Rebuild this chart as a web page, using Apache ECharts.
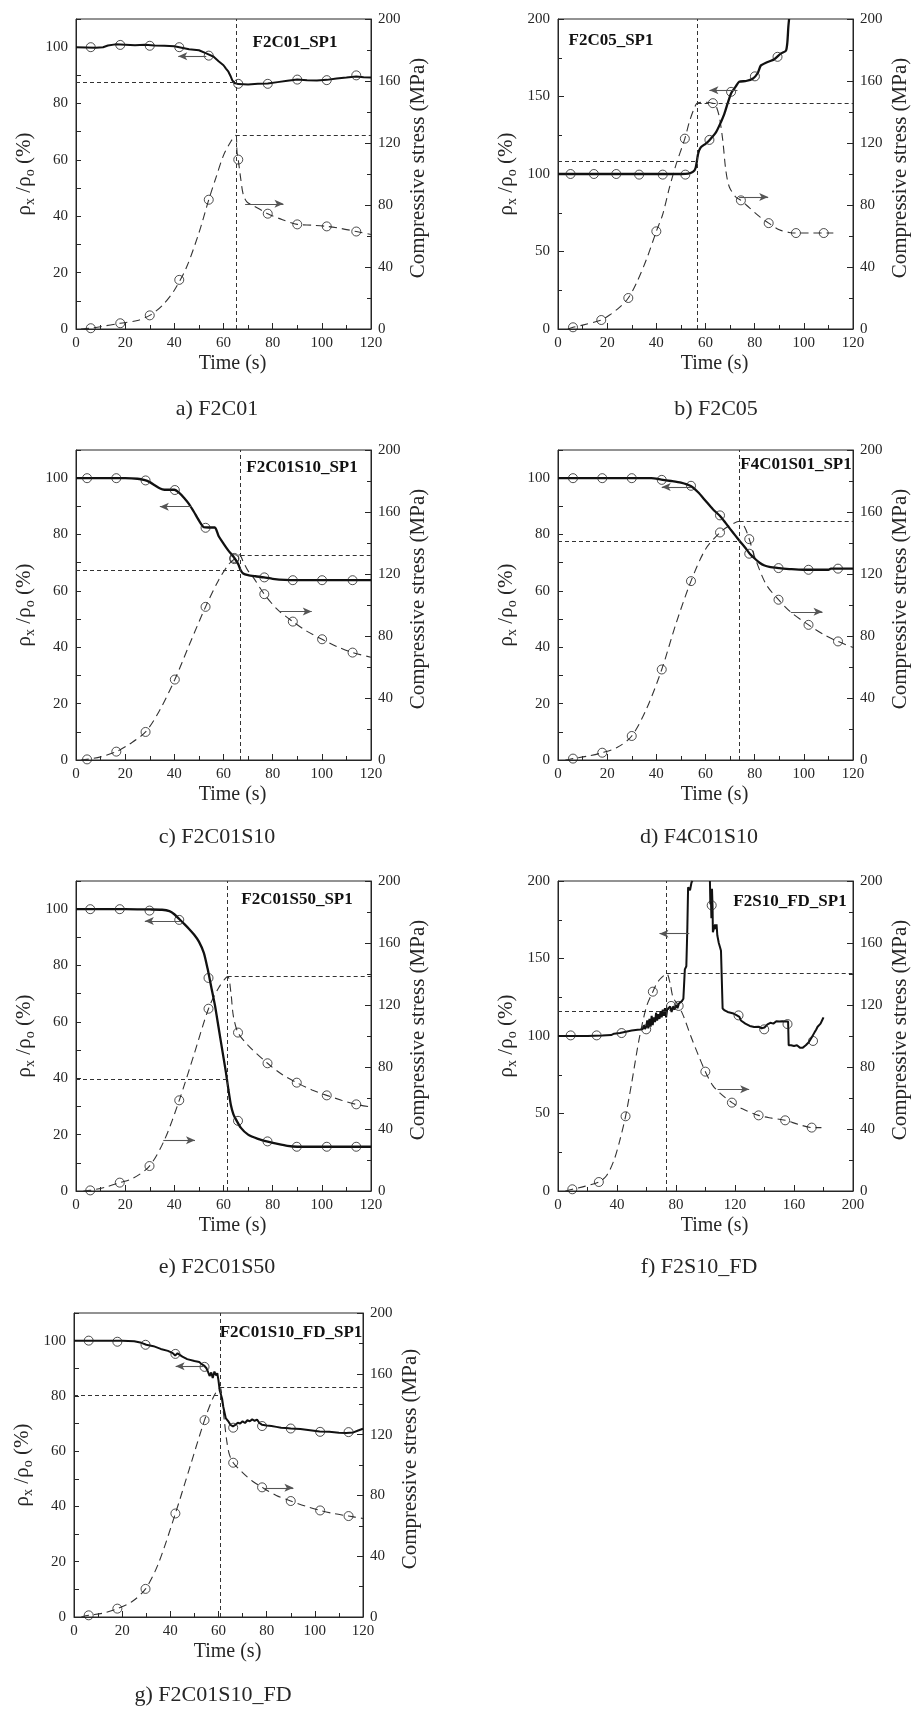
<!DOCTYPE html>
<html>
<head>
<meta charset="utf-8">
<title>Resistivity ratio and compressive stress vs time</title>
<script src="https://cdn.jsdelivr.net/npm/echarts@6.0.0/dist/echarts.min.js"></script>
<style>
  html, body { margin: 0; padding: 0; background: #ffffff; }
  #chart { width: 912px; height: 1709px; }
</style>
</head>
<body>
<div id="chart"></div>
<script>
// ---------- data: [time (s), value] ----------
// a) F2C01
const densityA = [[0,100],[4,99.9],[8,99.8],[11,100],[13,100.6],[16,101],[20,100.9],[24,100.7],[28,100.9],[32,100.6],[36,100.5],[40,100.3],[43,99.8],[46,99.3],[50,98.9],[53,97.8],[56,96.6],[58,95],[60,93.6],[61,92.4],[62,91.3],[63,89.5],[63.6,88.2],[64.5,87.3],[66,86.9],[70,86.8],[74,87],[78,87.1],[82,87.6],[86,88.1],[90,88.5],[94,88.3],[98,88.2],[102,88.4],[106,88.9],[110,89.2],[114,89.6],[117,89.3],[120,89.2]];
const stressA = [[2,0],[6,0.5],[10,1.5],[18,3.7],[25,5.5],[30,8.8],[35,15],[40,25],[45,40],[50,62],[54,83.4],[57,98],[60,112],[63,121],[65,125],[65.5,114],[66,109.3],[67,97],[68,87],[69.5,82],[72,79.7],[78,74.4],[84,70.5],[90,67.5],[96,67],[102,66.2],[108,64.8],[114,62.9],[120,61]];
const densityMarksA = [[6,100],[18,100.8],[30,100.5],[42,100],[54,97],[66,87],[78,87],[90,88.5],[102,88.3],[114,90]];
const stressMarksA = [[6,0.5],[18,3.7],[30,8.8],[42,31.7],[54,83.4],[66,109.3],[78,74.4],[90,67.5],[102,66.2],[114,62.9]];

// b) F2C05
const densityB = [[0,100],[10,100],[20,100],[30,100],[40,100],[50,100],[53,100.3],[55,101.5],[56,104],[57,113],[58,117],[60,119.5],[61.6,121.8],[64.3,127],[66.3,133.6],[67.7,139],[69,145.5],[70.4,152],[72.4,156.7],[73.7,159.5],[76.5,160],[79.2,161.4],[81.2,165],[82.5,170],[84.6,171.8],[88,174],[90.7,177.8],[92.7,179.5],[93.3,185],[93.7,195],[94,200]];
const stressB = [[4,0],[6.1,1.1],[10,2.5],[17.6,5.8],[21,9],[25,14],[28.6,20],[32,30],[36,45],[40,63],[42.6,74],[45.3,91],[48,106],[51.6,122.8],[53.5,134],[56,144.5],[57,146],[60,146.3],[63,145.7],[64,145],[65.6,137],[67,122],[68.3,102],[69.7,91.6],[72.4,85],[74.4,83],[78,78],[82,72.5],[85.7,68.3],[90,64],[94,62.3],[96.8,61.9],[102,61.9],[108.1,61.9],[112,61.9]];
const densityMarksB = [[5.1,100],[14.6,100],[23.7,100],[33,99.6],[42.6,99.6],[51.8,99.6],[61.6,122],[70.4,153],[80.1,163],[89.3,175.6]];
const stressMarksB = [[6.1,1.1],[17.6,5.8],[28.6,20],[40,63],[51.6,122.8],[63,145.7],[74.4,83],[85.7,68.3],[96.8,61.9],[108.1,61.9]];

// c) F2C01S10
const densityC = [[0,100],[10,100],[20,100],[25,99.8],[28,99.3],[30,98.6],[32,97.5],[34,96.4],[36,95.9],[38,95.9],[40,95.9],[42,94.8],[44,93],[46,90.8],[48,88],[50,85],[52,82.6],[54,82.5],[56.5,82.5],[58,79.5],[60,76.8],[62,74.3],[64,72.2],[66,69.5],[67,67.3],[68,66.2],[70,65.6],[73,65.2],[76.5,64.8],[80,64.3],[85,63.9],[90,63.8],[100,63.8],[110,63.8],[120,63.8]];
const stressC = [[2,0],[4.5,0.4],[10,2],[16.4,5.4],[22,10.5],[28.3,18.1],[34,32],[40.2,51.9],[46,74],[52.7,98.8],[58,116],[62,126],[64.4,129.6],[66.5,132.4],[68,128],[70,122],[72.1,117.8],[76.6,107],[82,97],[88.2,89.3],[94,83],[100.1,77.9],[106,73.3],[112.5,69.3],[120,66.3]];
const densityMarksC = [[4.5,100],[16.4,100],[28.3,99.2],[40.2,95.8],[52.7,82.4],[64.4,71.7],[76.6,64.8],[88.2,63.8],[100.1,63.8],[112.5,63.8]];
const stressMarksC = [[4.5,0.4],[16.4,5.4],[28.3,18.1],[40.2,51.9],[52.7,98.8],[64.4,129.6],[76.6,107],[88.2,89.3],[100.1,77.9],[112.5,69.3]];

// d) F4C01S10
const densityD = [[0,100],[10,100],[20,100],[30,100],[38,100],[42,99.5],[46,99],[50,98.4],[54,97.2],[57,95],[60,92],[63,89],[66,86.5],[68,84.3],[70,82],[72,79.8],[74,77.6],[76,75.5],[78,73.2],[80,71.5],[82,70],[84,69],[86,68.5],[90,68.1],[95,67.7],[100,67.5],[105,67.5],[110,67.5],[111,67.9],[115,67.9],[120,67.9]];
const stressD = [[3,0],[6.1,0.9],[12,2.5],[18,4.7],[24,8],[30,15.5],[36,33],[42.2,58.4],[48,88],[54.1,115.4],[60,136],[65.9,146.8],[70,151.5],[73.9,154],[76,150],[77.8,142.5],[80,131],[84.6,113.5],[89.7,103.4],[95,95],[101.9,87.2],[108,81],[113.9,76.5],[120,72.6]];
const densityMarksD = [[6.1,100],[18,100],[30,100],[42.2,99.4],[54.1,97.3],[65.9,86.8],[77.8,73.2],[89.7,68.1],[101.9,67.5],[113.9,67.9]];
const stressMarksD = [[6.1,0.9],[18,4.7],[30,15.5],[42.2,58.4],[54.1,115.4],[65.9,146.8],[77.8,142.5],[89.7,103.4],[101.9,87.2],[113.9,76.5]];

// e) F2C01S50
const densityE = [[0,100],[10,100],[20,100],[30,99.9],[35,99.8],[38,99.3],[40,98.2],[42,96.5],[44,94.8],[46,93],[48,91],[50,88.5],[52,84.5],[53.5,79],[55,72.5],[56.5,66],[58,58],[59.5,50],[61,42],[62,36],[63,30.5],[64,27.3],[65,25.5],[67,22.5],[70,20],[74,18.5],[78,17.5],[82,16.7],[86,16],[90,15.7],[100,15.7],[110,15.7],[120,15.7]];
const stressE = [[3,0],[5.8,0.4],[12,2.5],[17.8,5.4],[23,8],[29.9,16.1],[36,33],[42,58.5],[48,88],[53.9,117.6],[58,131],[61.7,138.3],[63,128],[64,113],[65.9,102.2],[70,94],[77.9,82.4],[84,75],[89.8,69.9],[96,65.2],[102,61.7],[108,58.6],[114,55.9],[120,54.2]];
const densityMarksE = [[5.8,100],[17.8,100],[29.9,99.5],[42,96.2],[53.9,75.6],[65.9,24.9],[77.9,17.6],[89.8,15.7],[102,15.7],[114,15.7]];
const stressMarksE = [[5.8,0.4],[17.8,5.4],[29.9,16.1],[42,58.5],[53.9,117.6],[65.9,102.2],[77.9,82.4],[89.8,69.9],[102,61.7],[114,55.9]];

// f) F2S10_FD  ('-' marks the stretch where the ratio runs above the axis range)
const densityF = [[0,100],[10,100],[20,100],[30,100.3],[36,100.6],[38,101.5],[42,102],[46,102.8],[50,103.5],[54,104],[56,104.2],[57.5,104.5],[58.2,107],[59,104.5],[59.8,106],[60.5,110],[61.2,105],[62,111],[62.8,106],[63.5,113],[64.2,107],[65,112],[65.8,109],[66.5,115],[67.2,110],[68,114],[68.8,111],[69.5,116],[70.3,112],[71,117],[71.8,113],[72.5,118],[73.3,112],[74,117],[75,116],[76,119],[77,115.5],[78,119],[79,117],[80,120],[81,118],[82,121],[83,120],[84,122.5],[85,124],[85.7,124],[86,143],[87,145],[87.7,170],[88.2,196],[89.5,194],[90.5,199],[91.2,200],[97,'-'],[103,200],[103.3,185],[103.6,192],[104,176],[104.4,195],[104.8,183],[105,167],[106,167],[106.5,172],[107,169],[107.5,172],[108,165],[109,160],[109.8,157.4],[110.5,155],[111.3,155],[111.6,117.7],[113,116.5],[115,115.5],[117,115],[119,114.5],[121,113.5],[123,112.4],[124,110],[127,108],[130,106.5],[133,105.8],[136,106],[138,105],[140,105.5],[142,107.5],[144,108.5],[146,108],[148,109.5],[150,109.3],[152,109.5],[156,109.3],[156.4,94],[158,94],[160,93.5],[162,94],[164,92.5],[166,92.5],[168,94],[170,96],[172,99],[173,100],[174,102.5],[175,104],[176,106],[177,105.5],[178,108],[179,110],[180,112]];
const stressF = [[5,0],[9.7,1.1],[18,3],[27.7,5.8],[33,10],[38,20],[42,33],[45.8,48.2],[50,70],[55,98],[60,119],[64.3,128.6],[67,134],[70,137.5],[73.7,140.2],[76,134],[78,125],[81.8,119.4],[85,113],[90,100],[95,88],[99.9,77],[105,68],[110,63],[117.9,57],[125,53],[136,48.8],[145,47],[154,45.6],[163,43],[172,40.9],[178.6,40.9]];
const densityMarksF = [[8.6,100.4],[26.2,100.4],[43.1,101.9],[59.8,104.3],[76.7,119.4],[104.2,184.3],[122.4,113.3],[139.8,104.3],[155.6,107.7],[172.9,96.8]];
const stressMarksF = [[9.7,1.1],[27.7,5.8],[45.8,48.2],[64.3,128.6],[81.8,119.4],[99.9,77],[117.9,57],[136,48.8],[154,45.6],[172,40.9]];

// g) F2C01S10_FD
const densityG = [[0,100],[10,100],[20,100],[25,99.8],[28,99.2],[30,98.5],[33,98],[36,97],[39,96.3],[41,95.5],[42,94.6],[43,95.4],[45,94.2],[47,93.3],[50,92.6],[52,92.3],[53,91.5],[54,91],[55,90],[55.7,88.6],[56.3,87.2],[57,88.5],[57.6,86.5],[58.3,88.8],[59,87.4],[59.5,88.2],[60,85.5],[60.5,82],[61,80.5],[61.5,79],[62,76],[62.5,74],[63,72],[64,70.9],[65,69.5],[66,69],[67,69.5],[68,70.3],[69,70],[70,70.8],[71,70.2],[72,71.2],[73,70.8],[74,71.5],[75,71],[76,71.4],[77,70.2],[78,69.6],[80,69.3],[82,69.1],[84,68.8],[86,68.5],[88,68.4],[90,68.2],[94,68],[98,67.6],[102,67.1],[106,67],[110,66.7],[113,66.6],[116,66.8],[118,67.5],[120,68.1]];
const stressG = [[3,0],[6.1,1.1],[12,2.5],[18,5.5],[24,10],[29.7,18.5],[35,35],[42.1,68.1],[48,98],[54.2,129.5],[58,145],[60.7,151],[61.5,142],[62.5,128],[63.5,115],[64.5,107],[66.1,101.5],[70,95],[74,89.5],[78.1,85.3],[84,80],[90,76.3],[96,73],[102.2,70.1],[108,68],[114,66.4],[120,64.8]];
const densityMarksG = [[6.1,100],[18,99.6],[29.7,98.5],[42.1,95.2],[54.2,90.5],[66.1,68.5],[78.1,69.1],[90,68.2],[102.2,67],[114,66.9]];
const stressMarksG = [[6.1,1.1],[18,5.5],[29.7,18.5],[42.1,68.1],[54.2,129.5],[66.1,101.5],[78.1,85.3],[90,76.3],[102.2,70.1],[114,66.4]];

// peak stress: time, ratio at that time, stress value
const peakTime    = [65, 56.8, 67, 73.9, 61.7, 73.7, 60.7];
const peakDensity = [87.5, 108.4, 67.5, 77.6, 39.8, 115.9, 80.1];
const peakStress  = [125, 145.5, 132.4, 153.9, 138.3, 140.2, 151];

const panelTags = ['F2C01_SP1','F2C05_SP1','F2C01S10_SP1','F4C01S01_SP1','F2C01S50_SP1','F2S10_FD_SP1','F2C01S10_FD_SP1'];
const captions  = ['a) F2C01','b) F2C05','c) F2C01S10','d) F4C01S10','e) F2C01S50','f) F2S10_FD','g) F2C01S10_FD'];
const timeMax   = [120, 120, 120, 120, 120, 200, 120];
const ratioMax  = [110, 200, 110, 110, 110, 200, 110];

const densitySets = [densityA, densityB, densityC, densityD, densityE, densityF, densityG];
const stressSets  = [stressA, stressB, stressC, stressD, stressE, stressF, stressG];
const densityMarkSets = [densityMarksA, densityMarksB, densityMarksC, densityMarksD, densityMarksE, densityMarksF, densityMarksG];
const stressMarkSets  = [stressMarksA, stressMarksB, stressMarksC, stressMarksD, stressMarksE, stressMarksF, stressMarksG];

// ---------- layout & annotation placement ----------
const gridBoxes = [
  {left: 76,  top: 19,   width: 295, height: 310},
  {left: 558, top: 19,   width: 295, height: 310},
  {left: 76,  top: 450,  width: 295, height: 310},
  {left: 558, top: 450,  width: 295, height: 310},
  {left: 76,  top: 881,  width: 295, height: 310},
  {left: 558, top: 881,  width: 295, height: 310},
  {left: 74,  top: 1313, width: 289, height: 304}
];
// arrows in data coordinates: [from, to]
const ratioArrows = [
  [[53,96.8],[41.6,96.8]], [[73,154],[61.6,154]], [[47,89.9],[34.1,89.9]], [[54.1,96.9],[42.2,96.9]],
  [[42.3,95.8],[28,95.8]], [[89,166],[68.8,166]], [[53.9,90.7],[42.2,90.7]]
];
const stressArrows = [
  [[68.8,80.8],[84.4,80.8]], [[73.7,85.1],[85.5,85.1]], [[82.7,95.8],[95.9,95.8]], [[94.7,95.6],[107.6,95.6]],
  [[35.5,32.7],[48.4,32.7]], [[108.2,65.6],[129.6,65.6]], [[78.6,85],[91.1,85]]
];
const tagCenters = [[295,43],[611,41],[302,468],[796,465],[297,900],[790,902],[291,1333]];
const captionCenters = [[217,409],[716,409],[217,837],[699,837],[217,1267],[699,1267],[213,1695]];

const FONT = '"Liberation Serif", "Times New Roman", serif';
const INK = '#262626';
const TICK_FONT = 15;

function timeAxis(i) {
  const max = timeMax[i];
  return {
    type: 'value', gridIndex: i, min: 0, max: max, interval: max === 200 ? 40 : 20,
    axisLine: {show: true, onZero: false, lineStyle: {color: INK, width: 1}},
    axisTick: {show: true, inside: true, length: 6, lineStyle: {color: INK}},
    minorTick: {show: true, splitNumber: 2, length: 4, lineStyle: {color: INK}},
    splitLine: {show: false}, minorSplitLine: {show: false},
    axisLabel: {fontFamily: FONT, fontSize: TICK_FONT, color: INK, margin: 7},
    name: 'Time (s)', nameLocation: 'middle', nameGap: 25,
    nameTextStyle: {fontFamily: FONT, fontSize: 20, color: INK, padding: [0, 0, 0, 18]}
  };
}

function ratioAxis(i) {
  const max = ratioMax[i];
  const base = {
    type: 'value', gridIndex: i, position: 'left', min: 0, max: max,
    axisLine: {show: true, onZero: false, lineStyle: {color: INK, width: 1}},
    splitLine: {show: false}, minorSplitLine: {show: false},
    name: '{r|ρ}{s|x}{r| /ρ}{s|o}{r| (%)}', nameLocation: 'middle', nameGap: 39,
    nameTextStyle: {
      color: INK,
      rich: {
        r: {fontFamily: FONT, fontSize: 21, color: INK, lineHeight: 25},
        s: {fontFamily: FONT, fontSize: 14, color: INK, lineHeight: 9, verticalAlign: 'bottom'}
      }
    }
  };
  if (max === 110) {
    base.interval = 10;
    base.axisTick = {show: true, inside: true, length: 5, lineStyle: {color: INK}};
    base.minorTick = {show: false};
    base.axisLabel = {fontFamily: FONT, fontSize: TICK_FONT, color: INK, margin: 8,
      formatter: v => (v % 20 === 0 && v <= 100) ? String(v) : ''};
  } else {
    base.interval = 50;
    base.axisTick = {show: true, inside: true, length: 6, lineStyle: {color: INK}};
    base.minorTick = {show: true, splitNumber: 2, length: 4, lineStyle: {color: INK}};
    base.axisLabel = {fontFamily: FONT, fontSize: TICK_FONT, color: INK, margin: 8};
  }
  return base;
}

function stressAxis(i) {
  return {
    type: 'value', gridIndex: i, position: 'right', min: 0, max: 200, interval: 40,
    axisLine: {show: true, onZero: false, lineStyle: {color: INK, width: 1}},
    axisTick: {show: true, inside: true, length: 6, lineStyle: {color: INK}},
    minorTick: {show: true, splitNumber: 2, length: 4, lineStyle: {color: INK}},
    splitLine: {show: false}, minorSplitLine: {show: false},
    axisLabel: {fontFamily: FONT, fontSize: TICK_FONT, color: INK, margin: 7},
    name: 'Compressive stress (MPa)', nameLocation: 'middle', nameGap: 37,
    nameTextStyle: {fontFamily: FONT, fontSize: 21, color: INK, padding: [0, 0, 0, 12]}
  };
}

const refLine = {type: [4, 3], color: '#333', width: 1};
const arrowLine = {type: 'solid', color: '#555', width: 1.1};

function arrowPair(a) {
  return [
    {coord: a[0], symbol: 'none', lineStyle: arrowLine},
    {coord: a[1], symbol: 'arrow', symbolSize: [6, 9], lineStyle: arrowLine}
  ];
}

const grids = [], xAxes = [], yAxes = [], series = [], graphics = [];

densitySets.forEach((dens, i) => {
  grids.push(Object.assign({show: true, borderColor: INK, borderWidth: 1, backgroundColor: 'transparent', containLabel: false}, gridBoxes[i]));
  xAxes.push(timeAxis(i));
  yAxes.push(ratioAxis(i));
  yAxes.push(stressAxis(i));

  const tp = peakTime[i], dp = peakDensity[i], sp = peakStress[i];
  const jagged = (i === 0 || i === 5 || i === 6);

  series.push({
    type: 'line', xAxisIndex: i, yAxisIndex: 2 * i, data: dens,
    showSymbol: false, smooth: jagged ? false : 0.2, connectNulls: false, clip: true,
    lineStyle: {color: '#111', width: jagged ? 2 : 2.3}, z: 3,
    markLine: {
      silent: true, symbol: ['none', 'none'], label: {show: false}, animation: false,
      lineStyle: refLine, emphasis: {disabled: true},
      data: [
        [{coord: [tp, 0], lineStyle: refLine}, {coord: [tp, ratioMax[i]], lineStyle: refLine}],
        [{coord: [0, dp], lineStyle: refLine}, {coord: [tp, dp], lineStyle: refLine}],
        arrowPair(ratioArrows[i])
      ]
    }
  });
  series.push({
    type: 'line', xAxisIndex: i, yAxisIndex: 2 * i + 1, data: stressSets[i],
    showSymbol: false, smooth: 0.3, clip: true,
    lineStyle: {color: '#333', width: 1.1, type: [8, 5]}, z: 2,
    markLine: {
      silent: true, symbol: ['none', 'none'], label: {show: false}, animation: false,
      lineStyle: refLine, emphasis: {disabled: true},
      data: [
        [{coord: [tp, sp], lineStyle: refLine}, {coord: [timeMax[i], sp], lineStyle: refLine}],
        arrowPair(stressArrows[i])
      ]
    }
  });
  series.push({
    type: 'scatter', xAxisIndex: i, yAxisIndex: 2 * i, data: densityMarkSets[i],
    symbol: 'circle', symbolSize: 9, z: 4, silent: true,
    itemStyle: {color: 'rgba(255,255,255,0)', borderColor: '#222', borderWidth: 1}
  });
  series.push({
    type: 'scatter', xAxisIndex: i, yAxisIndex: 2 * i + 1, data: stressMarkSets[i],
    symbol: 'circle', symbolSize: 9, z: 4, silent: true,
    itemStyle: {color: 'rgba(255,255,255,0)', borderColor: '#222', borderWidth: 1}
  });

  graphics.push({
    type: 'text', x: tagCenters[i][0], y: tagCenters[i][1], z: 10,
    style: {text: panelTags[i], fill: '#111', font: 'bold 17px ' + FONT,
            align: 'center', verticalAlign: 'middle', textAlign: 'center', textVerticalAlign: 'middle'}
  });
  graphics.push({
    type: 'text', x: captionCenters[i][0], y: captionCenters[i][1], z: 10,
    style: {text: captions[i], fill: INK, font: '22px ' + FONT,
            align: 'center', verticalAlign: 'middle', textAlign: 'center', textVerticalAlign: 'middle'}
  });
});

const chart = echarts.init(document.getElementById('chart'), null, {renderer: 'canvas'});
chart.setOption({
  animation: false,
  backgroundColor: '#ffffff',
  grid: grids,
  xAxis: xAxes,
  yAxis: yAxes,
  series: series,
  graphic: graphics
});
</script>
</body>
</html>
